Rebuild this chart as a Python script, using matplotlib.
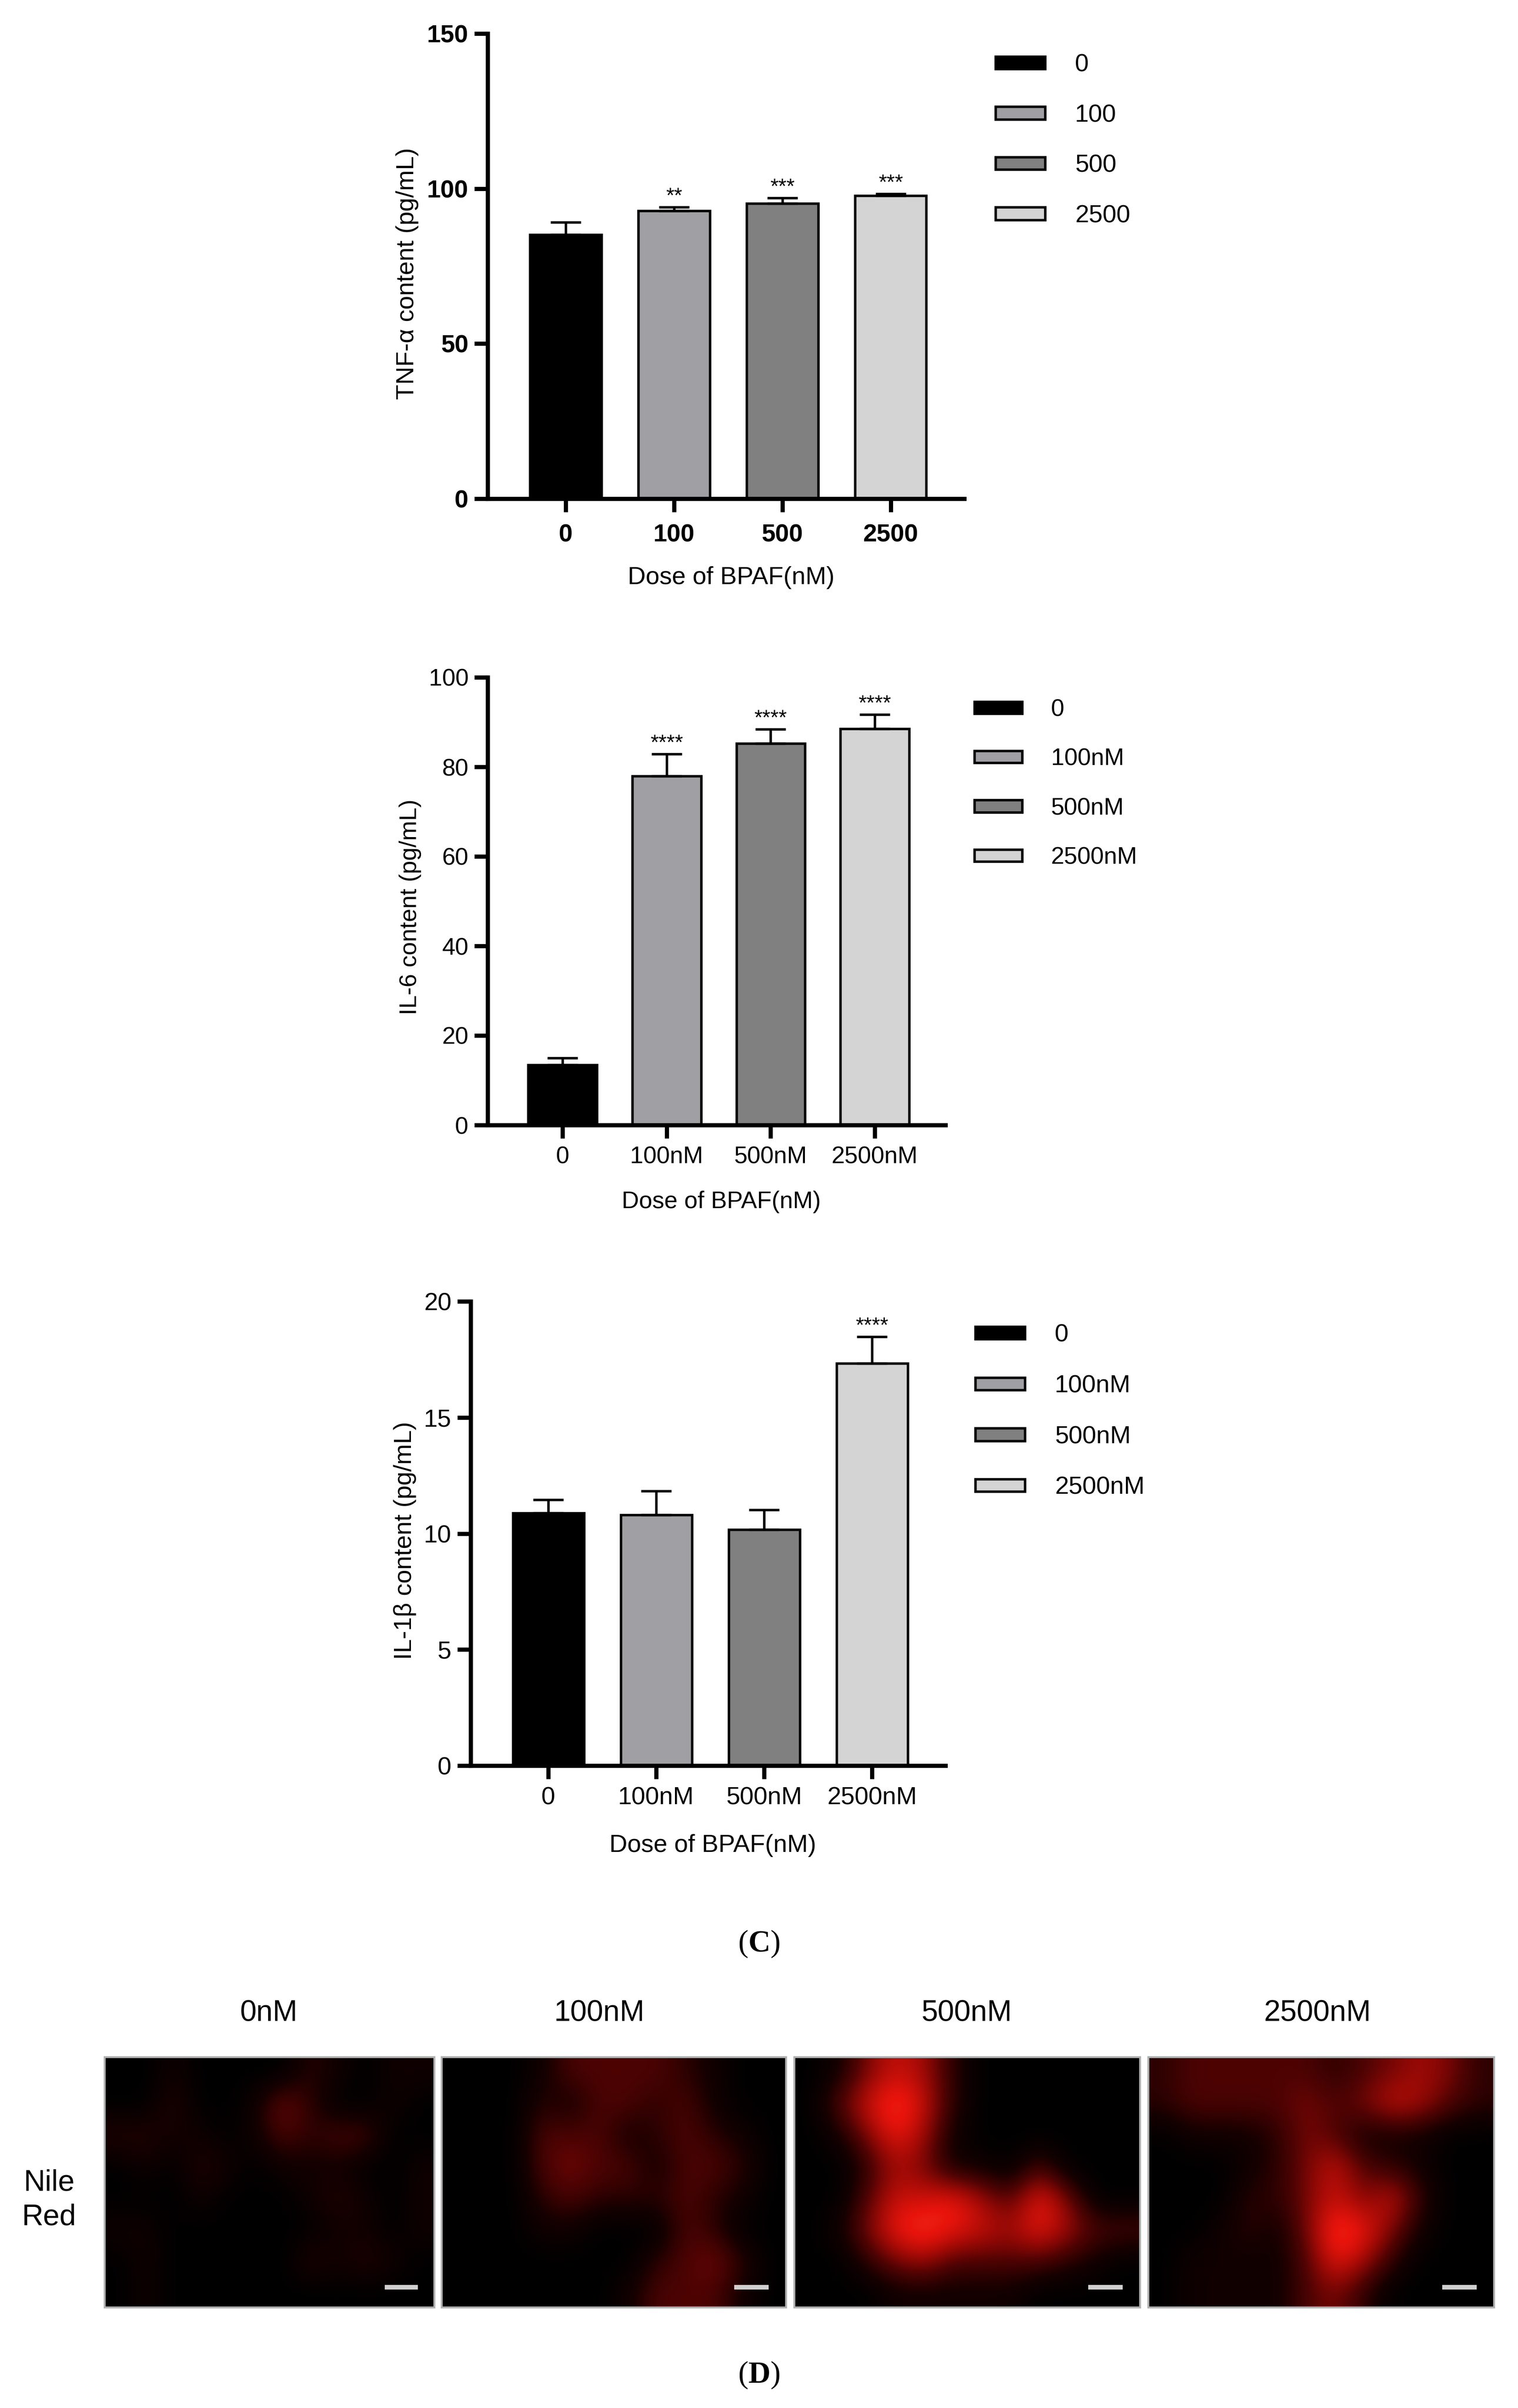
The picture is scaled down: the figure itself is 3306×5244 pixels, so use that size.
import numpy as np
import matplotlib
matplotlib.use("Agg")
import matplotlib.pyplot as plt
from matplotlib.colors import LinearSegmentedColormap

W, H = 3306, 5244
DPI = 300

plt.rcParams['font.family'] = ['Liberation Sans', 'DejaVu Sans']
plt.rcParams['mathtext.fontset'] = 'custom'
plt.rcParams['mathtext.rm'] = 'Liberation Serif'
plt.rcParams['mathtext.bf'] = 'Liberation Serif:bold'

# ---- data ----
tnf_doses = ['0', '100', '500', '2500']
tnf_mean = [85.2, 92.9, 95.2, 97.8]
tnf_err = [4.0, 1.1, 1.8, 0.5]
tnf_sig = ['', '**', '***', '***']

nm_doses = ['0', '100nM', '500nM', '2500nM']
il6_mean = [13.4, 77.9, 85.2, 88.5]
il6_err = [1.6, 5.0, 3.2, 3.2]
il6_sig = ['', '****', '****', '****']

il1b_mean = [10.88, 10.81, 10.16, 17.32]
il1b_err = [0.57, 1.02, 0.86, 1.16]
il1b_sig = ['', '', '', '****']

bar_colors = ['#000000', '#a0a0a4', '#808080', '#d4d4d4']

# Nile red images, coarse brightness (0-10), rows top->bottom
img_titles = ['0nM', '100nM', '500nM', '2500nM']
img_0 = [[0, 0, 1, 0, 0, 0, 0, 2, 1, 0, 1, 1],
         [0, 0, 2, 0, 0, 1, 4, 2, 0, 0, 1, 0],
         [2, 2, 1, 1, 0, 1, 3, 2, 3, 3, 0, 0],
         [0, 1, 0, 2, 1, 0, 1, 1, 1, 0, 0, 1],
         [0, 0, 0, 1, 0, 0, 0, 1, 2, 1, 0, 1],
         [1, 1, 0, 0, 0, 0, 0, 0, 1, 1, 0, 1],
         [0, 1, 0, 0, 0, 0, 0, 2, 1, 2, 1, 0],
         [0, 1, 0, 0, 0, 0, 0, 0, 0, 0, 0, 0]]
img_100 = [[0, 0, 0, 1, 3, 3, 3, 3, 2, 1, 0, 0],
           [0, 0, 0, 2, 1, 3, 3, 2, 3, 1, 0, 0],
           [0, 0, 0, 3, 3, 3, 1, 2, 3, 2, 1, 0],
           [0, 0, 0, 3, 4, 3, 3, 1, 3, 3, 2, 0],
           [0, 0, 0, 2, 3, 2, 2, 2, 3, 2, 1, 0],
           [0, 0, 0, 1, 1, 0, 0, 0, 3, 2, 0, 0],
           [0, 0, 0, 0, 0, 0, 0, 2, 3, 4, 2, 0],
           [0, 0, 0, 0, 0, 0, 1, 3, 3, 3, 1, 0]]
img_500 = [[0, 1, 4, 6, 5, 2, 0, 0, 0, 0, 0, 0],
           [0, 3, 6, 8, 6, 2, 0, 0, 0, 0, 0, 0],
           [0, 1, 4, 7, 5, 1, 0, 0, 0, 0, 0, 0],
           [0, 0, 2, 5, 4, 1, 1, 0, 3, 0, 0, 0],
           [0, 0, 3, 6, 6, 7, 5, 3, 7, 4, 0, 0],
           [0, 1, 4, 7, 8, 7, 6, 5, 7, 5, 3, 3],
           [0, 0, 2, 4, 5, 3, 3, 3, 3, 2, 1, 0],
           [0, 0, 0, 1, 1, 1, 1, 1, 0, 0, 0, 0]]
img_2500 = [[2, 3, 3, 3, 3, 3, 2, 3, 4, 5, 4, 2],
            [2, 3, 3, 3, 3, 4, 3, 4, 6, 5, 3, 2],
            [0, 1, 1, 1, 2, 4, 3, 1, 1, 1, 0, 0],
            [0, 0, 0, 1, 2, 4, 6, 3, 2, 1, 0, 0],
            [0, 0, 0, 2, 2, 4, 6, 4, 6, 2, 0, 0],
            [0, 0, 1, 2, 1, 4, 8, 7, 4, 1, 0, 0],
            [0, 1, 1, 1, 1, 3, 7, 5, 2, 0, 0, 0],
            [0, 1, 1, 1, 1, 3, 4, 2, 0, 0, 0, 0]]


def box(l, t, r, b):
    return [l / W, 1 - b / H, (r - l) / W, (b - t) / H]


def fx(x):
    return x / W


def fy(y):
    return 1 - y / H


fig = plt.figure(figsize=(W / DPI, H / DPI), dpi=DPI, facecolor='white')


def bar_chart(rect, means, errs, sig, ticklabels, leg_labels, ymax, ystep,
              ylabel, bold, ylab_xy, xlab_xy, leg_xy, tickpad, fs, legsp):
    ax = fig.add_axes(box(*rect))
    x = np.arange(len(means))
    bars = ax.bar(x, means, width=0.66, color=bar_colors, edgecolor='black',
                  linewidth=1.3, zorder=2)
    ax.errorbar(x, means, yerr=[np.zeros(len(errs)), errs], fmt='none',
                ecolor='black', elinewidth=1.3, capsize=8, capthick=1.3, zorder=3)
    for i, s in enumerate(sig):
        if s:
            ax.annotate(s, (x[i], means[i] + errs[i]), xytext=(0, 0),
                        textcoords='offset points', ha='center', va='bottom',
                        fontsize=11)
    ax.set_xlim(-0.72, 3.68)
    ax.set_ylim(0, ymax)
    ax.set_yticks(np.arange(0, ymax + 1, ystep))
    ax.set_xticks(x)
    w = 'bold' if bold else 'normal'
    ax.set_xticklabels(ticklabels, fontsize=fs, fontweight=w)
    ax.set_yticklabels([str(int(v)) for v in np.arange(0, ymax + 1, ystep)],
                       fontsize=fs, fontweight=w)
    for s in ['top', 'right']:
        ax.spines[s].set_visible(False)
    for s in ['left', 'bottom']:
        ax.spines[s].set_linewidth(2.2)
    ax.tick_params(axis='both', width=2.2, length=7, direction='out')
    ax.tick_params(axis='x', pad=tickpad)
    ax.tick_params(axis='y', pad=3)
    ax.set_ylabel(ylabel, fontsize=fs, va='center')
    ax.yaxis.set_label_coords(fx(ylab_xy[0]), fy(ylab_xy[1]), transform=fig.transFigure)
    ax.set_xlabel('Dose of BPAF(nM)', fontsize=fs, va='center')
    ax.xaxis.set_label_coords(fx(xlab_xy[0]), fy(xlab_xy[1]), transform=fig.transFigure)
    ax.legend(list(bars), leg_labels, loc='center left',
              bbox_to_anchor=(fx(leg_xy[0]), fy(leg_xy[1])),
              bbox_transform=fig.transFigure, frameon=False, fontsize=fs,
              handlelength=2.0, handleheight=0.4, labelspacing=legsp,
              handletextpad=1.2, borderpad=0, borderaxespad=0)
    return ax


bar_chart((1062, 73, 2100, 1086), tnf_mean, tnf_err, tnf_sig, tnf_doses,
          tnf_doses, 150, 50, 'TNF-α content (pg/mL)', True,
          (887, 596), (1592, 1258), (2168, 306), 6, 13, 1.1)
bar_chart((1062, 1475, 2059, 2450), il6_mean, il6_err, il6_sig, nm_doses,
          nm_doses, 100, 20, 'IL-6 content (pg/mL)', False,
          (893, 1975), (1571, 2618), (2122, 1707), 4, 12.5, 1.12)
bar_chart((1025, 2834, 2059, 3845), il1b_mean, il1b_err, il1b_sig, nm_doses,
          nm_doses, 20, 5, 'IL-1β content (pg/mL)', False,
          (882, 3355), (1552, 4019), (2124, 3074), 4, 13, 1.12)

fig.text(fx(1653), fy(4233), r'($\mathbf{C}$)', ha='center', va='center',
         fontsize=16, family='Liberation Serif')

# ---- panel D: Nile red staining ----
nile = LinearSegmentedColormap.from_list(
    'nile', [(0.0, '#000000'), (0.15, '#160000'), (0.35, '#520303'),
             (0.55, '#a00a06'), (0.75, '#e8140c'), (1.0, '#ff5a48')])
img_boxes = [(228, 4480, 946, 5025), (962, 4480, 1712, 5025),
             (1730, 4480, 2483, 5025), (2501, 4480, 3254, 5025)]
title_x = [585, 1305, 2105, 2870]
for grid, rect, title, tx in zip([img_0, img_100, img_500, img_2500],
                                 img_boxes, img_titles, title_x):
    ax = fig.add_axes(box(*rect))
    ax.imshow(np.array(grid, dtype=float), cmap=nile, vmin=0, vmax=9,
              interpolation='bicubic', aspect='auto')
    ax.set_xticks([])
    ax.set_yticks([])
    for s in ax.spines.values():
        s.set_color('#b0b0b0')
        s.set_linewidth(1)
    ax.plot([0.85, 0.95], [0.08, 0.08], transform=ax.transAxes,
            color='#d0d0d0', lw=2.4, solid_capstyle='butt')
    fig.text(fx(tx), fy(4384), title, ha='center', va='center', fontsize=15.5)

fig.text(fx(107), fy(4791), 'Nile\nRed', ha='center', va='center',
         fontsize=15.5, linespacing=1.3)
fig.text(fx(1653), fy(5172), r'($\mathbf{D}$)', ha='center', va='center',
         fontsize=16, family='Liberation Serif')

fig.savefig('out.png', dpi=DPI, facecolor='white')
